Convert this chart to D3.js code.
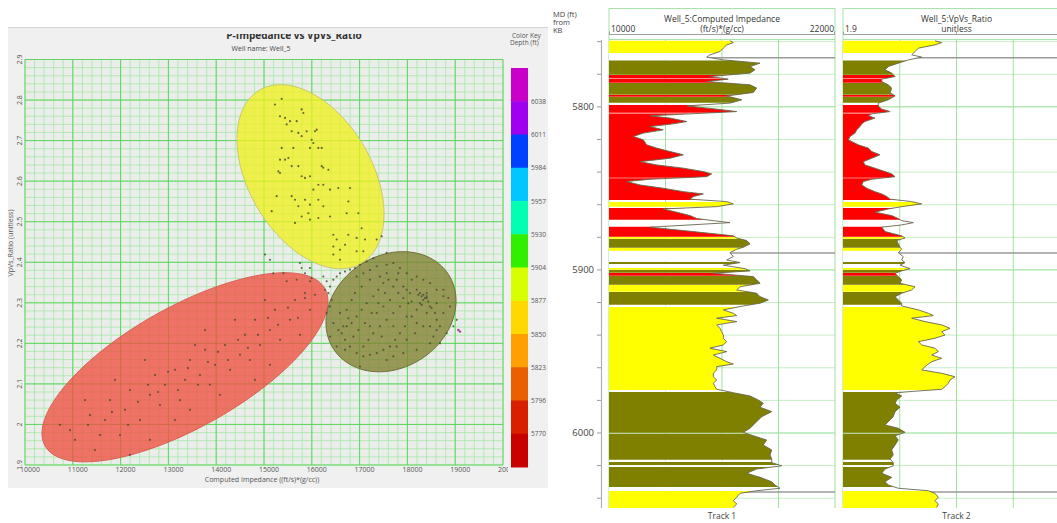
<!DOCTYPE html>
<html>
<head>
<meta charset="utf-8">
<script src="https://cdn.jsdelivr.net/npm/d3@7"></script>
<style>
  body { margin: 0; background: #ffffff; overflow: hidden; }
  svg { display: block; font-family: "Open Sans", "DejaVu Sans", sans-serif; }
</style>
</head>
<body>
<svg id="chart" width="1057" height="523"></svg>
<script>
// ---------------- Crossplot data ----------------
const xTickValues = [10000, 11000, 12000, 13000, 14000, 15000, 16000, 17000, 18000, 19000, 20000];
const xTickLabels = ["10000", "11000", "12000", "13000", "14000", "15000", "16000", "17000", "18000", "19000", "20000"];
const yTickValues = [1.9, 2.0, 2.1, 2.2, 2.3, 2.4, 2.5, 2.6, 2.7, 2.8, 2.9];
const yTickLabels = ["1.9", "2", "2.1", "2.2", "2.3", "2.4", "2.5", "2.6", "2.7", "2.8", "2.9"];

// colour key (depth, ft) : labels sit on the block boundaries
const colorKeyDepths = [6038, 6011, 5984, 5957, 5930, 5904, 5877, 5850, 5823, 5796, 5770];
const colorKeyColors = ["#c800c8", "#a000f0", "#0040ff", "#00c8ff", "#00ffb0", "#30f000",
                        "#d8ff00", "#ffd800", "#ffa000", "#e86000", "#d82000", "#c80000"];

// cluster ellipses: centre, major and minor semi-axis vectors (impedance, VpVs)
const ellipseNames   = ["shale", "sand", "carbonate"];
const ellipseCenters = [[13347, 2.141], [15973, 2.611], [17657, 2.278]];
const ellipseMajor   = [[2928, 0.1939], [1066, -0.2136], [1202, 0.0921]];
const ellipseMinor   = [[616, -0.1296], [-1109, -0.0770], [638, -0.1160]];
const ellipseFill    = ["#f05040", "#f0f020", "#808030"];
const ellipseStroke  = ["#d86058", "#c8c870", "#70703a"];

// samples: [impedance, VpVs]
const sandPts = [
  [15230,2.789],[15370,2.803],[15335,2.760],[15440,2.756],[15544,2.748],[15474,2.740],[15788,2.777],
  [15823,2.768],[15684,2.748],[15579,2.723],[15718,2.719],[15788,2.711],[15893,2.723],[16067,2.723],
  [16102,2.727],[15997,2.702],[16032,2.694],[15962,2.682],[16137,2.682],[16207,2.682],[15614,2.682],
  [15370,2.682],[15335,2.653],[15440,2.653],[15509,2.657],[15579,2.637],[15300,2.624],[15335,2.620],
  [15718,2.637],[15858,2.608],[15788,2.612],[15962,2.612],[16241,2.633],[16346,2.628],[16207,2.637],
  [16137,2.591],[16241,2.591],[16032,2.579],[16381,2.579],[16555,2.583],[16799,2.583],[15579,2.563],
  [15649,2.554],[15858,2.554],[15718,2.538],[15962,2.542],[16137,2.554],[16241,2.538],[15928,2.521],
  [15788,2.513],[15649,2.497],[15161,2.526],[15265,2.563],[15962,2.505],[16137,2.509],[16381,2.513],
  [16765,2.550],[16730,2.521],[16974,2.521],[16451,2.468],[16521,2.456],[16765,2.468],[16939,2.460],
  [17043,2.484],[17113,2.456],[16451,2.439],[16590,2.431],[16939,2.427],[17078,2.427],[16451,2.419],
  [16590,2.406],[16695,2.443],[17357,2.456],[17462,2.464]
];
const transitionPts = [
  [15021,2.419],[15126,2.406],[15195,2.373],[15753,2.398],[15788,2.386],[15858,2.373],[15962,2.386],
  [15997,2.361],[16241,2.365],[16311,2.353],[16381,2.340],[16276,2.332],[16451,2.357],[16521,2.365],
  [16590,2.373],[16695,2.377],[16799,2.382],[16904,2.386],[17009,2.394],[17148,2.402],[17288,2.410],
  [17566,2.423],[16346,2.324],[16416,2.307],[16381,2.291],[16311,2.275],[15962,2.353],[15858,2.324],
  [15684,2.357],[15405,2.373],[15474,2.353]
];
const carbonatePts = [
  [16939,2.365],[17078,2.373],[17218,2.381],[17357,2.390],[17566,2.394],[17706,2.398],[17845,2.386],
  [17985,2.373],[18089,2.357],[18194,2.365],[18333,2.357],[18473,2.349],[18612,2.332],[18752,2.316],
  [18856,2.312],[18891,2.291],[18752,2.275],[18612,2.258],[18473,2.242],[18403,2.275],[18264,2.324],
  [18333,2.307],[18403,2.316],[18264,2.299],[18194,2.283],[18089,2.266],[17950,2.242],[17845,2.225],
  [17741,2.209],[17636,2.192],[17497,2.184],[17357,2.176],[17218,2.172],[17078,2.168],[16939,2.176],
  [16799,2.192],[16695,2.209],[16625,2.225],[16730,2.242],[16834,2.250],[16939,2.266],[17043,2.283],
  [17148,2.299],[17287,2.316],[17392,2.332],[17497,2.349],[17601,2.357],[17706,2.340],[17810,2.324],
  [17915,2.312],[18020,2.299],[17845,2.291],[17706,2.275],[17566,2.258],[17427,2.242],[17287,2.225],
  [17183,2.209],[17078,2.192],[17357,2.275],[17497,2.291],[17636,2.307],[17776,2.357],[17915,2.340],
  [18054,2.324],[17531,2.324],[17392,2.299],[17253,2.275],[17113,2.250],[16974,2.233],[16869,2.217],
  [17218,2.242],[17462,2.217],[17706,2.242],[17985,2.266],[18194,2.250],[18333,2.242],[18543,2.217],
  [18682,2.200],[18473,2.291],[18612,2.299],[18752,2.332],[16730,2.283],[16590,2.275],[16451,2.250],
  [16381,2.217],[16520,2.192],[16695,2.184],[17776,2.192],[17985,2.209],[18159,2.225],[17566,2.159],
  [17008,2.143],[18821,2.225],[18961,2.242],[19031,2.258],[18298,2.316],[18333,2.320],[18403,2.312],
  [18229,2.320],[18368,2.312],[18438,2.303],[18298,2.295],[18403,2.324],[18508,2.287],[18194,2.332],
  [18577,2.275],[18089,2.303],[17985,2.332],[17810,2.373],[17566,2.373],[17427,2.365],[17218,2.357],
  [17043,2.340],[16904,2.324],[16834,2.307],[16765,2.262],[16660,2.242],[16555,2.233],[18682,2.242],
  [18612,2.233],[18473,2.200],[18194,2.184],[17915,2.176],[17706,2.168]
];
const purplePts = [[19100, 2.229], [19066, 2.233]];
const shalePts = [
  [10732,1.999],[11046,1.962],[11360,2.023],[11464,1.937],[11674,2.011],[11778,2.060],[11987,1.974],
  [12092,2.036],[12197,2.085],[12406,2.011],[12615,2.073],[12720,2.122],[12824,2.048],[12929,2.098],
  [13138,2.135],[13243,2.060],[13347,2.110],[13452,2.159],[13661,2.122],[13766,2.184],[13870,2.098],
  [13975,2.147],[14184,2.196],[14289,2.135],[14498,2.172],[14602,2.221],[14707,2.159],[14812,2.258],
  [14916,2.196],[15125,2.233],[15230,2.283],[15335,2.209],[15544,2.258],[15648,2.307],[15753,2.221],
  [15962,2.283],[16067,2.320],[13766,2.233],[13138,2.011],[12615,1.962],[12197,1.925],[11883,2.110],
  [13452,2.036],[14393,2.258],[15021,2.307],[14079,2.073],[11569,1.974],[11255,2.060],[12510,2.159],
  [15125,2.147],[10941,1.986],[11318,1.999],[11820,2.031],[12155,1.999],[12364,2.056],[12573,2.098],
  [12782,2.080],[12992,2.130],[13201,2.085],[13410,2.139],[13619,2.098],[13828,2.154],[14038,2.179],
  [14247,2.159],[14456,2.209],[14665,2.189],[14874,2.221],[15084,2.263],[15293,2.246],[15502,2.288],
  [15711,2.263],[15858,2.312],[14812,2.110],[13556,2.196]
];

// ---------------- Well log data ----------------
const logDepth = [
  5759.5,5760.6,5762.0,5764.0,5766.1,5768.1,5769.5,5771.2,5773.2,5775.3,5777.3,5779.3,5781.4,5783.0,
  5784.5,5786.5,5788.5,5791.2,5793.3,5795.7,5797.7,5799.4,5801.4,5802.9,5804.3,5805.5,5806.9,5809.0,
  5810.4,5812.1,5814.1,5816.1,5818.2,5820.2,5823.3,5825.3,5827.4,5829.4,5831.5,5833.6,5835.6,5837.6,
  5839.7,5841.1,5842.8,5844.4,5845.8,5847.9,5849.9,5852.0,5853.4,5855.0,5856.6,5858.1,5859.5,5861.2,
  5862.6,5864.6,5866.7,5868.5,5869.8,5871.0,5872.4,5873.8,5876.5,5879.1,5880.4,5882.0,5884.0,5886.1,
  5887.3,5889.4,5891.8,5893.9,5895.5,5897.1,5899.2,5900.6,5902.0,5904.1,5906.1,5908.2,5910.3,5912.3,
  5914.3,5916.4,5918.4,5920.4,5922.1,5924.5,5926.6,5928.0,5929.6,5931.7,5933.7,5935.8,5937.9,5939.9,
  5941.9,5944.0,5946.0,5948.0,5950.1,5952.2,5954.2,5956.3,5957.7,5959.3,5961.3,5963.4,5965.5,5967.5,
  5969.5,5971.6,5973.2,5975.3,5977.3,5979.8,5981.8,5984.2,5986.9,5990.0,5993.1,5995.1,5997.1,5999.6,
  6001.7,6004.3,6007.4,6010.4,6013.5,6015.9,6018.2,6020.1,6022.1,6024.7,6027.2,6029.9,6031.9,6033.9,
  6035.4,6037.0,6039.4,6041.5,6043.6,6045.6
];
const impedanceLog = [
  16425,16600,16250,16070,15890,15360,15190,16070,18020,17490,17750,17490,15360,16330,
  15190,17490,17840,17660,16250,17050,16425,14130,15720,16780,14300,12180,13240,14130,
  13410,12180,12880,11820,11290,11820,12000,12530,13240,13950,13240,11650,12530,13950,
  15010,15450,15190,12180,10940,11650,12880,13950,15010,14480,14300,16250,16600,15720,
  12880,13590,14300,14660,15540,16425,14300,12180,14480,16600,16780,17310,17490,17130,
  16780,16425,16600,16250,16960,16070,17220,17490,15540,17660,17840,18020,16960,16780,
  17840,18020,18460,18020,17130,16070,16600,16780,15720,16780,15720,15890,15980,16070,
  16070,16250,16070,15360,16250,15540,15890,16250,16600,15720,15720,15540,15540,15720,
  15540,15630,15720,16600,17490,17930,18190,18020,18640,18110,17840,17660,17490,17130,
  17660,18370,18190,18640,18550,18640,18640,19170,17840,17310,18020,18640,18810,19080,
  17840,16960,16780,16600,16780,16600
];
const vpvsLog = [
  2.508,2.552,2.508,2.398,2.376,2.354,2.420,2.332,2.265,2.199,2.178,2.222,2.244,2.156,
  2.156,2.199,2.222,2.211,2.244,2.199,2.133,2.133,2.156,2.211,2.090,2.067,2.111,2.045,
  2.024,2.012,1.991,1.979,1.946,1.935,2.001,2.067,2.090,2.144,2.090,2.034,2.045,2.111,
  2.178,2.222,2.244,2.090,2.034,2.024,2.057,2.111,2.156,2.189,2.211,2.354,2.420,2.288,
  2.199,2.111,2.222,2.265,2.288,2.365,2.288,2.156,2.178,2.288,2.310,2.255,2.265,2.277,
  2.288,2.265,2.298,2.288,2.310,2.277,2.343,2.288,2.244,2.265,2.288,2.277,2.376,2.354,
  2.288,2.244,2.265,2.288,2.288,2.398,2.464,2.497,2.354,2.442,2.552,2.607,2.552,2.574,
  2.508,2.398,2.420,2.508,2.530,2.486,2.552,2.486,2.464,2.442,2.420,2.552,2.640,2.607,
  2.596,2.574,2.552,2.244,2.288,2.255,2.244,2.277,2.244,2.232,2.199,2.178,2.265,2.310,
  2.244,2.265,2.244,2.222,2.232,2.211,2.232,2.232,2.178,2.156,2.222,2.178,2.199,2.265,
  2.464,2.508,2.530,2.508,2.530,2.519
];
// facies intervals: top, base, class (Y sand, O carbonate, R shale, W unclassified)
const zoneTop  = [5759.5,5767.0,5771.6,5780.5,5782.8,5785.4,5792.7,5794.0,5797.7,5798.8,5804.0,5843.8,5858.3,5861.5,
                  5862.0,5869.5,5873.6,5879.8,5881.1,5886.6,5888.4,5895.1,5896.5,5898.8,5900.1,5901.9,5903.8,5909.3,
                  5913.6,5921.6,5922.7,5974.0,5974.8,6000.4,6016.8,6017.8,6019.8,6020.9,6033.3,6035.6];
const zoneBase = [5766.9,5771.4,5780.3,5782.4,5785.2,5792.5,5793.8,5797.5,5798.6,5803.6,5843.4,5857.1,5861.3,5861.9,
                  5869.3,5873.4,5879.6,5880.9,5886.4,5888.2,5894.9,5896.3,5898.6,5899.9,5901.7,5903.6,5909.1,5913.4,
                  5921.4,5922.5,5973.6,5974.6,5999.8,6016.4,6017.6,6019.6,6020.7,6033.1,6035.4,6046.0];
const zoneClass = ["Y","W","O","R","R","O","R","O","W","R","R","R","Y","W",
                   "R","W","R","Y","O","Y","W","O","W","Y","O","R","O","Y",
                   "O","W","Y","W","O","O","W","O","W","O","W","Y"];
const faciesColor = { Y: "#ffff00", O: "#808000", R: "#ff0000", W: "#ffffff" };
const topMarkers = [5769.9, 5889.6, 6036.2];
const depthTicks = d3.range(5760, 6041, 20);
const depthLabels = [5800, 5900, 6000];

// ---------------- drawing ----------------
const svg = d3.select("#chart");

// ===== Crossplot panel =====
const xs = d3.scaleLinear().domain([10000, 20000]).range([25, 503]);
const ys = d3.scaleLinear().domain([1.9, 2.9]).range([465, 59.5]);

svg.append("rect").attr("x", 8).attr("y", 27).attr("width", 540).attr("height", 461).attr("fill", "#f0f0f0");
svg.append("line").attr("x1", 8).attr("x2", 548).attr("y1", 27.5).attr("y2", 27.5).attr("stroke", "#d4d4d4");

const defs = svg.append("defs");
defs.append("clipPath").attr("id", "titleClip").append("rect").attr("x", 0).attr("y", 34).attr("width", 548).attr("height", 20);
defs.append("clipPath").attr("id", "plotClip").append("rect")
  .attr("x", xs(10000)).attr("y", ys(2.9)).attr("width", xs(20000) - xs(10000)).attr("height", ys(1.9) - ys(2.9));
defs.append("clipPath").attr("id", "xLabClip").append("rect").attr("x", 0).attr("y", 460).attr("width", 508).attr("height", 20);

svg.append("text").attr("clip-path", "url(#titleClip)")
  .attr("x", 294).attr("y", 38.8).attr("text-anchor", "middle")
  .attr("font-size", 10).attr("font-weight", "bold").attr("fill", "#333").text("P-Impedance vs VpVs_Ratio");
svg.append("text").attr("x", 261).attr("y", 50.5).attr("text-anchor", "middle")
  .attr("font-size", 7).attr("fill", "#444").text("Well name: Well_5");

const plot = svg.append("g");
plot.append("rect").attr("x", xs(10000)).attr("y", ys(2.9))
  .attr("width", xs(20000) - xs(10000)).attr("height", ys(1.9) - ys(2.9)).attr("fill", "#eaedea");

// minor grid
const xMinor = d3.range(10000, 20001, 200);
const yMinor = d3.range(0, 51).map(i => 1.9 + i * 0.02);
plot.selectAll(".vmin").data(xMinor).join("line")
  .attr("x1", d => xs(d)).attr("x2", d => xs(d)).attr("y1", ys(2.9)).attr("y2", ys(1.9))
  .attr("stroke", "#a6e8a6").attr("stroke-width", 0.8);
plot.selectAll(".hmin").data(yMinor).join("line")
  .attr("y1", d => ys(d)).attr("y2", d => ys(d)).attr("x1", xs(10000)).attr("x2", xs(20000))
  .attr("stroke", "#a6e8a6").attr("stroke-width", 0.8);
// major grid
plot.selectAll(".vmaj").data(xTickValues).join("line")
  .attr("x1", d => xs(d)).attr("x2", d => xs(d)).attr("y1", ys(2.9)).attr("y2", ys(1.9))
  .attr("stroke", "#5ed65e").attr("stroke-width", 1);
plot.selectAll(".hmaj").data(yTickValues).join("line")
  .attr("y1", d => ys(d)).attr("y2", d => ys(d)).attr("x1", xs(10000)).attr("x2", xs(20000))
  .attr("stroke", "#5ed65e").attr("stroke-width", 1);

// ellipses
const ellipseLine = d3.line().curve(d3.curveLinearClosed);
[0, 1, 2].forEach(k => {
  const c = ellipseCenters[k], u = ellipseMajor[k], v = ellipseMinor[k];
  const pts = d3.range(0, 96).map(i => {
    const t = i / 96 * 2 * Math.PI;
    return [xs(c[0] + u[0] * Math.cos(t) + v[0] * Math.sin(t)),
            ys(c[1] + u[1] * Math.cos(t) + v[1] * Math.sin(t))];
  });
  plot.append("path").attr("class", "ellipse-" + ellipseNames[k]).attr("d", ellipseLine(pts))
    .attr("fill", ellipseFill[k]).attr("fill-opacity", 0.78)
    .attr("stroke", ellipseStroke[k]).attr("stroke-width", 1);
});

// points
const pointsG = plot.append("g").attr("clip-path", "url(#plotClip)");
[sandPts, transitionPts, carbonatePts, shalePts].forEach(arr => {
  pointsG.selectAll(null).data(arr).join("circle")
    .attr("cx", d => xs(d[0])).attr("cy", d => ys(d[1])).attr("r", 1.05)
    .attr("fill", "#4a4a30").attr("fill-opacity", 0.85);
});
pointsG.selectAll(null).data(purplePts).join("circle")
  .attr("cx", d => xs(d[0])).attr("cy", d => ys(d[1])).attr("r", 1.2).attr("fill", "#a040a0");

// axis labels
svg.append("g").attr("clip-path", "url(#xLabClip)").selectAll("text").data(xTickValues).join("text")
  .attr("x", d => xs(d) + 5).attr("y", 472).attr("text-anchor", "middle")
  .attr("font-size", 7).attr("fill", "#555").text((d, i) => xTickLabels[i]);
svg.selectAll(".ylab").data(yTickValues).join("text")
  .attr("transform", d => `translate(22,${ys(d)}) rotate(-90)`).attr("text-anchor", "middle")
  .attr("font-size", 7).attr("fill", "#555").text((d, i) => yTickLabels[i]);
svg.append("text").attr("x", 262).attr("y", 482).attr("text-anchor", "middle")
  .attr("font-size", 7).attr("fill", "#555").text("Computed Impedance ((ft/s)*(g/cc))");
svg.append("text").attr("transform", "translate(13,243) rotate(-90)").attr("text-anchor", "middle")
  .attr("font-size", 7).attr("fill", "#555").text("VpVs_Ratio (unitless)");

// colour key
svg.append("text").attr("x", 512).attr("y", 38).attr("font-size", 6.5).attr("fill", "#555").text("Color Key");
svg.append("text").attr("x", 510).attr("y", 45).attr("font-size", 6.5).attr("fill", "#555").text("Depth (ft)");
const keyScale = d3.scaleBand().domain(d3.range(colorKeyColors.length)).range([68, 467]);
svg.selectAll(".key").data(colorKeyColors).join("rect")
  .attr("x", 511).attr("width", 17).attr("y", (d, i) => keyScale(i)).attr("height", keyScale.bandwidth() + 0.5)
  .attr("fill", d => d);
svg.selectAll(".keylab").data(colorKeyDepths).join("text")
  .attr("x", 531).attr("y", (d, i) => keyScale(i) + keyScale.bandwidth() + 2.5)
  .attr("font-size", 6.5).attr("fill", "#555").text(d => d);

// ===== Well log panel =====
const dy = d3.scaleLinear().domain([5759, 6046]).range([40, 508]);
const t1 = d3.scaleLinear().domain([10000, 22000]).range([609, 835]);
const t2 = d3.scaleLinear().domain([1.9, 3.4]).range([843, 1070]);

// header
[["MD (ft)", 17], ["from", 25], ["KB", 33]].forEach(([t, y]) => {
  svg.append("text").attr("x", 553).attr("y", y).attr("font-size", 7.5).attr("fill", "#444").text(t);
});

function headerBox(scale, title, unit, lo, hi) {
  const [x0, x1] = scale.range();
  const g = svg.append("g");
  g.append("rect").attr("x", x0).attr("y", 8.5).attr("width", x1 - x0).attr("height", 31)
    .attr("fill", "none").attr("stroke", "#a8e4a8");
  g.append("text").attr("x", (x0 + x1) / 2).attr("y", 22).attr("text-anchor", "middle")
    .attr("font-size", 8.5).attr("fill", "#333").text(title);
  g.append("text").attr("x", (x0 + x1) / 2).attr("y", 32).attr("text-anchor", "middle")
    .attr("font-size", 8.5).attr("fill", "#333").text(unit);
  g.append("text").attr("x", x0 + 2).attr("y", 32).attr("font-size", 8.5).attr("fill", "#333").text(lo);
  g.append("text").attr("x", x1 - 1).attr("y", 32).attr("text-anchor", "end").attr("font-size", 8.5).attr("fill", "#333").text(hi);
  g.append("line").attr("x1", x0).attr("x2", x1).attr("y1", 34.5).attr("y2", 34.5).attr("stroke", "#a0a0a0");
  [x0 + 0.5, (x0 + x1) / 2, x1 - 0.5].forEach(x => {
    g.append("line").attr("x1", x).attr("x2", x).attr("y1", 31.5).attr("y2", 34.5).attr("stroke", "#a0a0a0");
  });
}
headerBox(t1, "Well_5:Computed Impedance", "(ft/s)*(g/cc)", "10000", "22000");
headerBox(t2, "Well_5:VpVs_Ratio", "unitless", "1.9", "3.4");

// depth axis
const [dTop, dBot] = dy.range();
svg.append("line").attr("x1", 601.5).attr("x2", 601.5).attr("y1", dTop).attr("y2", dBot).attr("stroke", "#b0b0b0").attr("stroke-width", 1.2);
svg.selectAll(".dtick").data(depthTicks).join("line")
  .attr("x1", 597).attr("x2", 601).attr("y1", d => dy(d)).attr("y2", d => dy(d)).attr("stroke", "#9a9a9a");
svg.selectAll(".dlab").data(depthLabels).join("text")
  .attr("x", 594).attr("y", d => dy(d) + 3.5).attr("text-anchor", "end")
  .attr("font-size", 9.5).attr("fill", "#444").text(d => d);

function interp(values, d) {
  const i = d3.bisectLeft(logDepth, d);
  if (i <= 0) return values[0];
  if (i >= logDepth.length) return values[values.length - 1];
  const d0 = logDepth[i - 1], d1 = logDepth[i];
  return values[i - 1] + (d - d0) / (d1 - d0) * (values[i] - values[i - 1]);
}
function zonePoints(values, top, base) {
  const pts = [[top, interp(values, top)]];
  logDepth.forEach((d, i) => { if (d > top && d < base) pts.push([d, values[i]]); });
  pts.push([base, interp(values, base)]);
  return pts;
}

function drawTrack(scale, values, label) {
  const [x0, x1] = scale.range();
  const [v0, v1] = scale.domain();
  const g = svg.append("g");
  // grid
  g.selectAll(".hg").data(depthTicks).join("line")
    .attr("x1", x0).attr("x2", x1).attr("y1", d => dy(d)).attr("y2", d => dy(d))
    .attr("stroke", d => d % 100 === 0 ? "#8edc8e" : "#c4eec4").attr("stroke-width", 1);
  g.selectAll(".vg").data(d3.range(5).map(i => v0 + i * (v1 - v0) / 4)).join("line")
    .attr("x1", d => scale(d)).attr("x2", d => scale(d)).attr("y1", dTop).attr("y2", dBot)
    .attr("stroke", "#9ee29e").attr("stroke-width", 1);
  // formation tops
  g.selectAll(".top").data(topMarkers).join("line")
    .attr("x1", x0).attr("x2", x1).attr("y1", d => dy(d)).attr("y2", d => dy(d))
    .attr("stroke", "#9a9a9a").attr("stroke-width", 1.6);
  // facies fills
  const area = d3.area().y(p => dy(p[0])).x0(x0).x1(p => scale(p[1]));
  zoneClass.forEach((c, i) => {
    g.append("path").attr("d", area(zonePoints(values, zoneTop[i], zoneBase[i])))
      .attr("fill", faciesColor[c]);
  });
  // curve
  const line = d3.line().x((d, i) => scale(values[i])).y(d => dy(d));
  g.append("path").attr("d", line(logDepth)).attr("fill", "none")
    .attr("stroke", "#66664e").attr("stroke-width", 0.9);
  svg.append("text").attr("x", (x0 + x1) / 2).attr("y", 519).attr("text-anchor", "middle")
    .attr("font-size", 8.5).attr("fill", "#444").text(label);
}
drawTrack(t1, impedanceLog, "Track 1");
drawTrack(t2, vpvsLog, "Track 2");
</script>
</body>
</html>
